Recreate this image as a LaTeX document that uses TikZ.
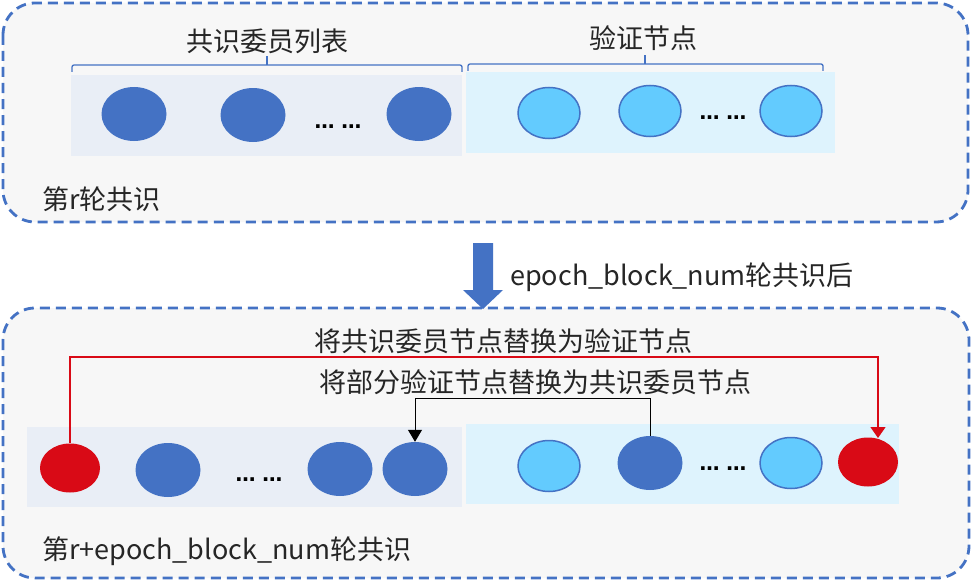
\documentclass[tikz,border=0pt]{standalone}
\usepackage{fontspec}
\setmainfont{Noto Sans CJK SC}
\newfontfamily\dv{DejaVu Sans}
\usetikzlibrary{shapes.geometric,arrows.meta}
\definecolor{bord}{HTML}{4472C4}
\definecolor{cmte}{HTML}{E9EEF6}
\definecolor{vali}{HTML}{DEF3FD}
\definecolor{lblue}{HTML}{63CBFE}
\definecolor{rd}{HTML}{D90A16}
\definecolor{txt}{HTML}{262626}
\definecolor{panel}{HTML}{F7F7F7}
\begin{document}
\begin{tikzpicture}[x=1pt,y=-1pt,
 panelbox/.style={draw=bord, line width=2.8pt, dash pattern=on 10pt off 6pt, rounded corners=32pt, fill=panel},
 cnode/.style={ellipse, fill=bord, minimum width=65pt, minimum height=54pt, inner sep=0pt},
 vnode/.style={ellipse, fill=lblue, draw=bord, line width=1.5pt, minimum width=62pt, minimum height=51pt, inner sep=0pt},
 rnode/.style={ellipse, fill=rd, minimum width=60pt, minimum height=49pt, inner sep=0pt},
 lbl/.style={text=txt, font=\fontsize{27}{32}\selectfont, inner sep=0pt},
 dotsl/.style={text=black, font=\dv\bfseries\fontsize{20}{24}\selectfont, inner sep=0pt},
 brace/.style={draw=bord, line width=1.3pt, rounded corners=2pt},
]
\useasboundingbox (0,0) rectangle (972,586);
\fill[white] (0,0) rectangle (972,586);

% panels
\draw[panelbox] (3,3) rectangle (968,222);
\draw[panelbox] (3,308) rectangle (969,578);

% top section
\fill[cmte] (71,75) rectangle (462,156);
\fill[vali] (466,72) rectangle (835,153);
\draw[brace] (72,72) -- (72,65) -- (462,65) -- (462,72);
\draw[brace] (267,65) -- (267,56);
\draw[brace] (468,71) -- (468,64) -- (823,64) -- (823,71);
\draw[brace] (645,64) -- (645,55);
\node[lbl] (t1) at (267,41) {共识委员列表};
\node[lbl] (t2) at (643,38) {验证节点};

\node[cnode] (a1) at (134,114) {};
\node[cnode] (a2) at (253,115) {};
\node[dotsl] (ad) at (338,127) {… …};
\node[cnode] (a3) at (419,114) {};
\node[vnode] (b1) at (549,113) {};
\node[vnode] (b2) at (650,111) {};
\node[dotsl] (bd) at (723,118) {… …};
\node[vnode] (b3) at (791,111) {};
\node[lbl, anchor=west] (t3) at (42,199) {第r轮共识};

% transition arrow
\fill[bord] (473,243) -- (493,243) -- (493,290) -- (503,290) -- (483,309) -- (463,290) -- (473,290) -- cycle;
\node[lbl, anchor=west] (t4) at (510,277) {epoch\_block\_num轮共识后};

% bottom section
\fill[cmte] (27,427) rectangle (462,507);
\fill[vali] (466,424) rectangle (899,504);

\node[rnode] (c1) at (70,468) {};
\node[cnode] (c2) at (168,470) {};
\node[dotsl] (cd) at (259,480) {… …};
\node[cnode] (c3) at (340,469) {};
\node[cnode] (c4) at (415,469) {};
\node[vnode] (d1) at (549,466) {};
\node[cnode] (d2) at (650,463) {};
\node[dotsl] (dd) at (723,469) {… …};
\node[vnode] (d3) at (791,463) {};
\node[rnode] (d4) at (868,462) {};

\node[lbl] (t5) at (503,341) {将共识委员节点替换为验证节点};
\node[lbl] (t6) at (535,382) {将部分验证节点替换为共识委员节点};
\node[lbl, anchor=west] (t7) at (42,551) {第r+epoch\_block\_num轮共识};

\coordinate (rcorner) at (878,357);
\coordinate (rtip) at (878,438);
\draw[rd, line width=1.3pt, -{Triangle[length=11pt,width=15pt]}] (c1.north) |- (rcorner) -- (rtip);
\coordinate (bcorner) at (415,398);
\draw[black, line width=1pt, -{Triangle[length=12pt,width=14pt]}] (d2.north) |- (bcorner) -- (c4.north);
\end{tikzpicture}
\end{document}
